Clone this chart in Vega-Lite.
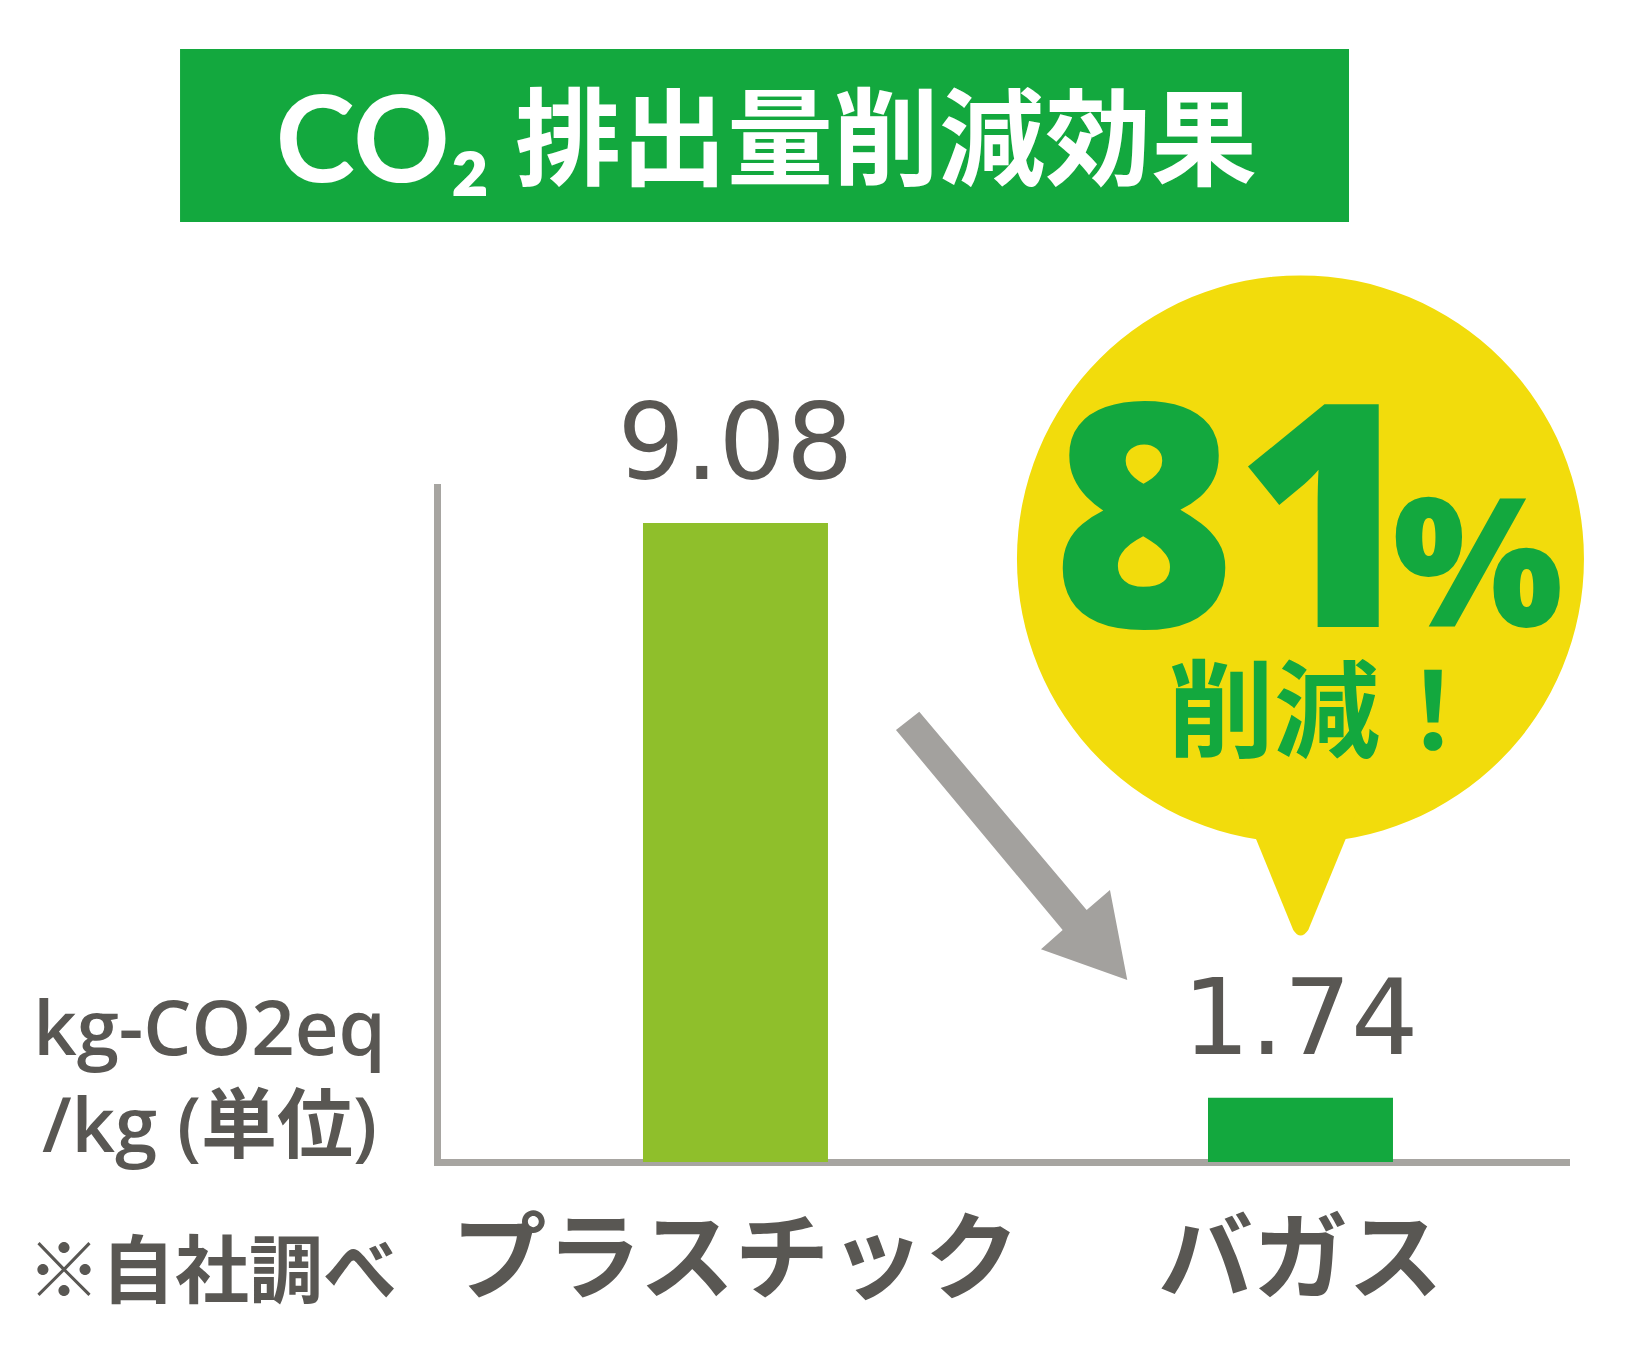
{
  "$schema": "https://vega.github.io/schema/vega-lite/v6.json",
  "width": 1129,
  "height": 675,
  "autosize": {"type": "none"},
  "padding": {"left": 437, "top": 487, "right": 81, "bottom": 188},
  "background": "#ffffff",
  "config": {
    "view": {"stroke": null},
    "axis": {"grid": false, "ticks": false}
  },
  "layer": [
    {
      "data": {
        "values": [
          {"material": "プラスチック", "co2": 9.08},
          {"material": "バガス", "co2": 1.74}
        ]
      },
      "encoding": {
        "x": {
          "field": "material",
          "type": "nominal",
          "sort": null,
          "scale": {"paddingInner": 0.6726, "paddingOuter": 0.3354, "align": 0.5435},
          "axis": {
            "title": null,
            "labelAngle": 0,
            "labelFont": "Noto Sans CJK JP",
            "labelFontWeight": "bold",
            "labelFontSize": 95,
            "labelColor": "#595753",
            "labelPadding": 54,
            "labelBaseline": "top",
            "labelLimit": 0,
            "labelOverlap": false,
            "domainColor": "#a7a5a1",
            "domainWidth": 7,
            "domainCap": "square"
          }
        },
        "y": {
          "field": "co2",
          "type": "quantitative",
          "scale": {"type": "pow", "exponent": 1.39, "domain": [0, 9.445], "nice": false},
          "axis": {
            "title": null,
            "labels": false,
            "domainColor": "#a7a5a1",
            "domainWidth": 7,
            "domainCap": "square"
          }
        }
      },
      "layer": [
        {
          "mark": {"type": "bar"},
          "encoding": {
            "color": {
              "field": "material",
              "type": "nominal",
              "scale": {"domain": ["プラスチック", "バガス"], "range": ["#8fbf2b", "#13a83e"]},
              "legend": null
            }
          }
        },
        {
          "mark": {
            "type": "text",
            "font": "DejaVu Sans",
            "fontSize": 106,
            "color": "#595753",
            "baseline": "alphabetic",
            "dy": -44
          },
          "encoding": {
            "text": {"field": "co2", "type": "quantitative", "format": ".2f"}
          }
        }
      ]
    },
    {
      "data": {"values": [{}]},
      "layer": [
        {
          "mark": {"type": "rect", "color": "#13a83e"},
          "encoding": {
            "x": {"datum": -22.76, "type": "quantitative", "scale": {"domain": [0, 100], "nice": false, "zero": false}, "axis": null},
            "x2": {"datum": 80.78},
            "y": {"datum": 164.89, "type": "quantitative", "scale": {"domain": [0, 100], "nice": false, "zero": false}, "axis": null},
            "y2": {"datum": 139.26}
          }
        },
        {
          "mark": {"type": "text", "text": "CO₂", "font": "Lato, DejaVu Sans", "fontWeight": "bold", "fontSize": 120, "color": "#ffffff", "align": "left", "baseline": "alphabetic"},
          "encoding": {
            "x": {"datum": -14.3, "type": "quantitative"},
            "y": {"datum": 145.19, "type": "quantitative"}
          }
        },
        {
          "mark": {"type": "text", "text": "排出量削減効果", "font": "Noto Sans CJK JP", "fontWeight": "bold", "fontSize": 106, "color": "#ffffff", "align": "left", "baseline": "alphabetic"},
          "encoding": {
            "x": {"datum": 6.91, "type": "quantitative"},
            "y": {"datum": 145.93, "type": "quantitative"}
          }
        },
        {
          "mark": {"type": "point", "shape": "circle", "filled": true, "opacity": 1, "size": 321489, "color": "#f2dc0c", "strokeWidth": 0},
          "encoding": {
            "x": {"datum": 76.48, "type": "quantitative"},
            "y": {"datum": 89.33, "type": "quantitative"}
          }
        },
        {
          "mark": {"type": "point", "shape": "M -0.151 0.6025 L 0.153 0.6025 L 0.0195 0.9275 Q 0 0.955 -0.018 0.9275 Z", "filled": true, "opacity": 1, "size": 640000, "color": "#f2dc0c", "strokeWidth": 0},
          "encoding": {
            "x": {"datum": 76.48, "type": "quantitative"},
            "y": {"datum": 89.33, "type": "quantitative"}
          }
        },
        {
          "mark": {"type": "text", "text": "81", "font": "Open Sans, Roboto", "fontWeight": 800, "fontSize": 312, "color": "#13a83e", "align": "center", "baseline": "alphabetic"},
          "encoding": {
            "x": {"datum": 70.7, "type": "quantitative"},
            "y": {"datum": 79.26, "type": "quantitative"}
          }
        },
        {
          "mark": {"type": "text", "text": "%", "font": "Open Sans, Roboto", "fontWeight": 800, "fontSize": 180, "color": "#13a83e", "align": "center", "baseline": "alphabetic"},
          "encoding": {
            "x": {"datum": 92.2, "type": "quantitative"},
            "y": {"datum": 79.26, "type": "quantitative"}
          }
        },
        {
          "mark": {"type": "text", "text": "削減！", "font": "Noto Sans CJK JP", "fontWeight": "bold", "fontSize": 106, "color": "#13a83e", "align": "center", "baseline": "alphabetic"},
          "encoding": {
            "x": {"datum": 78.83, "type": "quantitative"},
            "y": {"datum": 61.19, "type": "quantitative"}
          }
        },
        {
          "mark": {"type": "point", "shape": "M -0.4535 -0.6915 L 0.3835 0.3 L 0.5 0.2 L 0.5865 0.65 L 0.155 0.4965 L 0.2635 0.4 L -0.57 -0.6 Z", "filled": true, "opacity": 1, "size": 160000, "color": "#a3a19e", "strokeWidth": 0},
          "encoding": {
            "x": {"datum": 50.75, "type": "quantitative"},
            "y": {"datum": 46.22, "type": "quantitative"}
          }
        },
        {
          "mark": {"type": "text", "text": ["kg-CO2eq", "/kg (単位)"], "font": "Open Sans, Noto Sans CJK JP", "fontWeight": 600, "fontSize": 76, "lineHeight": 97, "color": "#595753", "align": "center", "baseline": "alphabetic"},
          "encoding": {
            "x": {"datum": -20.15, "type": "quantitative"},
            "y": {"datum": 15.85, "type": "quantitative"}
          }
        },
        {
          "mark": {"type": "text", "text": "※自社調べ", "font": "Noto Sans CJK JP", "fontWeight": "bold", "fontSize": 74, "color": "#595753", "align": "center", "baseline": "alphabetic"},
          "encoding": {
            "x": {"datum": -19.93, "type": "quantitative"},
            "y": {"datum": -20.0, "type": "quantitative"}
          }
        }
      ]
    }
  ],
  "resolve": {"scale": {"x": "independent", "y": "independent"}}
}
